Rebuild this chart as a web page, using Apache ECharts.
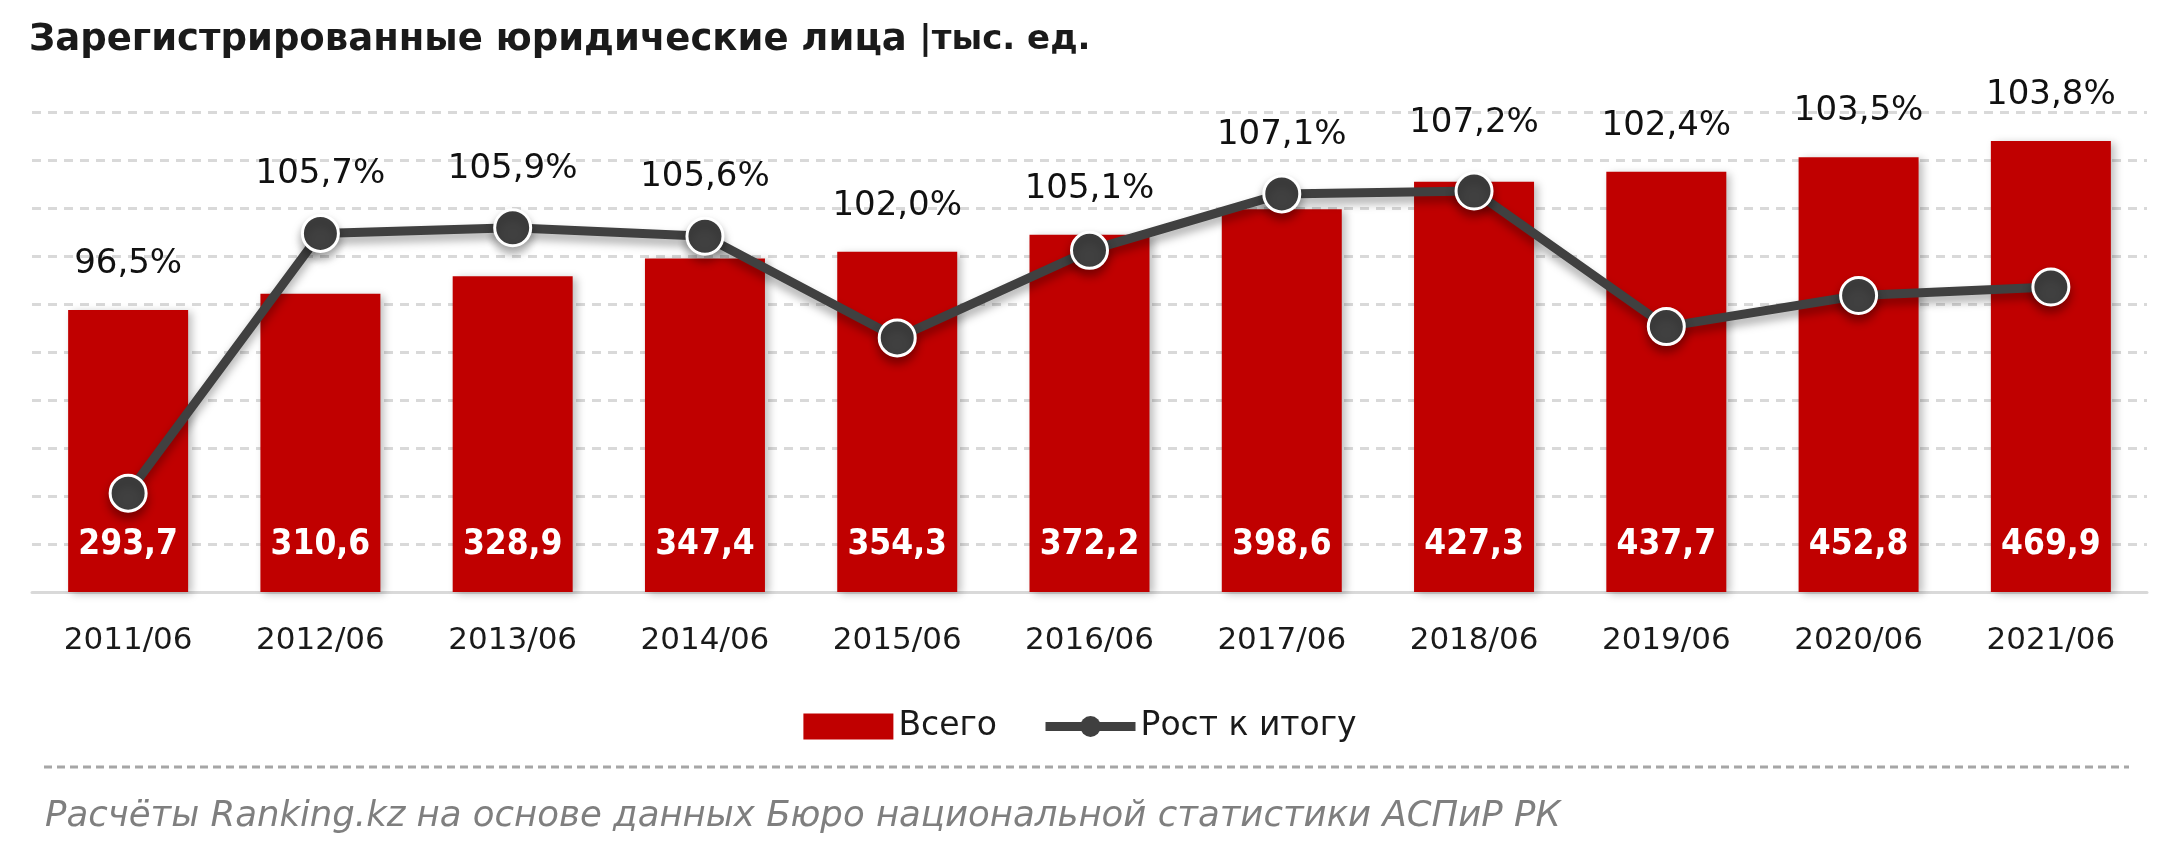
<!DOCTYPE html>
<html>
<head>
<meta charset="utf-8">
<script src="https://cdn.jsdelivr.net/npm/echarts@6/dist/echarts.min.js"></script>
<style>
html,body{margin:0;padding:0;background:#fff;}
#chart{width:2160px;height:865px;}
</style>
</head>
<body>
<div id="chart"></div>
<script>
var years = ['2011/06','2012/06','2013/06','2014/06','2015/06','2016/06','2017/06','2018/06','2019/06','2020/06','2021/06'];
var total = [293.7, 310.6, 328.9, 347.4, 354.3, 372.2, 398.6, 427.3, 437.7, 452.8, 469.9];
var growth = [96.5, 105.7, 105.9, 105.6, 102.0, 105.1, 107.1, 107.2, 102.4, 103.5, 103.8];

function fmt(v){ return v.toFixed(1).replace('.', ','); }

var pctLabel = {
	show: true,
	position: 'inside',
	fontFamily: 'DejaVu Sans',
	fontSize: 34,
	color: '#111',
	formatter: function(p){ return fmt(p.value) + '%'; }
};

var option = {
	animation: false,
	textStyle: { fontFamily: 'DejaVu Sans' },
	title: [{
		text: '{b|Зарегистрированные юридические лица}  {n||тыс. ед.}',
		left: 24,
		top: 17,
		textStyle: {
			rich: {
				b: { fontFamily: 'DejaVu Sans', fontWeight: 'bold', fontSize: 37, color: '#1a1a1a' },
				n: { fontFamily: 'DejaVu Sans', fontSize: 34, color: '#1a1a1a' }
			}
		}
	}, {
		text: 'Расчёты Ranking.kz на основе данных Бюро национальной статистики АСПиР РК',
		left: 40,
		top: 794,
		textStyle: { fontFamily: 'DejaVu Sans', fontStyle: 'italic', fontWeight: 'normal', fontSize: 35.5, color: '#7f7f7f' }
	}],
	legend: {
		left: 'center',
		top: 705,
		itemWidth: 90,
		itemHeight: 26,
		itemGap: 44,
		textStyle: { fontFamily: 'DejaVu Sans', fontSize: 33, color: '#1a1a1a' },
		data: [
			{ name: 'Всего', icon: 'rect' },
			{ name: 'Рост к итогу', lineStyle: { width: 9, color: '#404040' }, itemStyle: { color: '#404040', borderWidth: 0 } }
		]
	},
	graphic: [{
		type: 'line',
		shape: { x1: 44, y1: 767, x2: 2129, y2: 767 },
		style: { stroke: '#a6a6a6', lineWidth: 3, lineDash: [8, 5] }
	}],
	grid: { left: 32, right: 13, top: 112, bottom: 273 },
	xAxis: {
		type: 'category',
		data: years,
		axisTick: { show: false },
		axisLine: { lineStyle: { color: '#d9d9d9', width: 3 } },
		axisLabel: { fontFamily: 'DejaVu Sans', fontSize: 31, color: '#1a1a1a', margin: 33 }
	},
	yAxis: [{
		type: 'value',
		min: 0, max: 500, interval: 50,
		axisLabel: { show: false },
		axisLine: { show: false },
		axisTick: { show: false },
		splitLine: { lineStyle: { color: '#d9d9d9', width: 3, type: [9, 7] } }
	}, {
		type: 'value',
		min: 93, max: 110,
		show: false,
		splitLine: { show: false }
	}],
	series: [{
		name: 'Всего',
		type: 'bar',
		data: total,
		barWidth: 120,
		itemStyle: {
			color: '#c00000',
			shadowColor: 'rgba(0,0,0,0.25)', shadowBlur: 8, shadowOffsetX: 4, shadowOffsetY: 2
		},
		label: {
			show: true,
			position: 'insideBottom',
			distance: 30,
			color: '#fff',
			fontFamily: 'DejaVu Sans Condensed',
			fontWeight: 'bold',
			fontSize: 35,
			formatter: function(p){ return fmt(p.value); }
		}
	}, {
		name: 'Рост к итогу',
		type: 'line',
		yAxisIndex: 1,
		data: growth,
		symbol: 'circle',
		symbolSize: 36,
		z: 5,
		lineStyle: {
			color: '#404040', width: 9,
			shadowColor: 'rgba(0,0,0,0.35)', shadowBlur: 10, shadowOffsetY: 6
		},
		itemStyle: {
			color: '#404040', borderColor: '#fff', borderWidth: 3,
			shadowColor: 'rgba(0,0,0,0.35)', shadowBlur: 10, shadowOffsetY: 6
		},
		label: { show: false }
	}]
};

var myChart = echarts.init(document.getElementById('chart'));
myChart.setOption(option);

// поднимаем подписи процентов над точкой или столбцом (что выше)
var lineData = [];
for (var i = 0; i < growth.length; i++) {
	var py = myChart.convertToPixel({ yAxisIndex: 1 }, growth[i]);
	var by = myChart.convertToPixel({ yAxisIndex: 0 }, total[i]);
	var gap = by < py - 10 ? 46 : 59;
	var topY = Math.min(py, by);
	lineData.push({ value: growth[i], label: echarts.util.extend({ offset: [0, topY - gap - py] }, pctLabel) });
}
option.series[1].data = lineData;
option.series[1].label = pctLabel;
myChart.setOption(option, true);
</script>
</body>
</html>
